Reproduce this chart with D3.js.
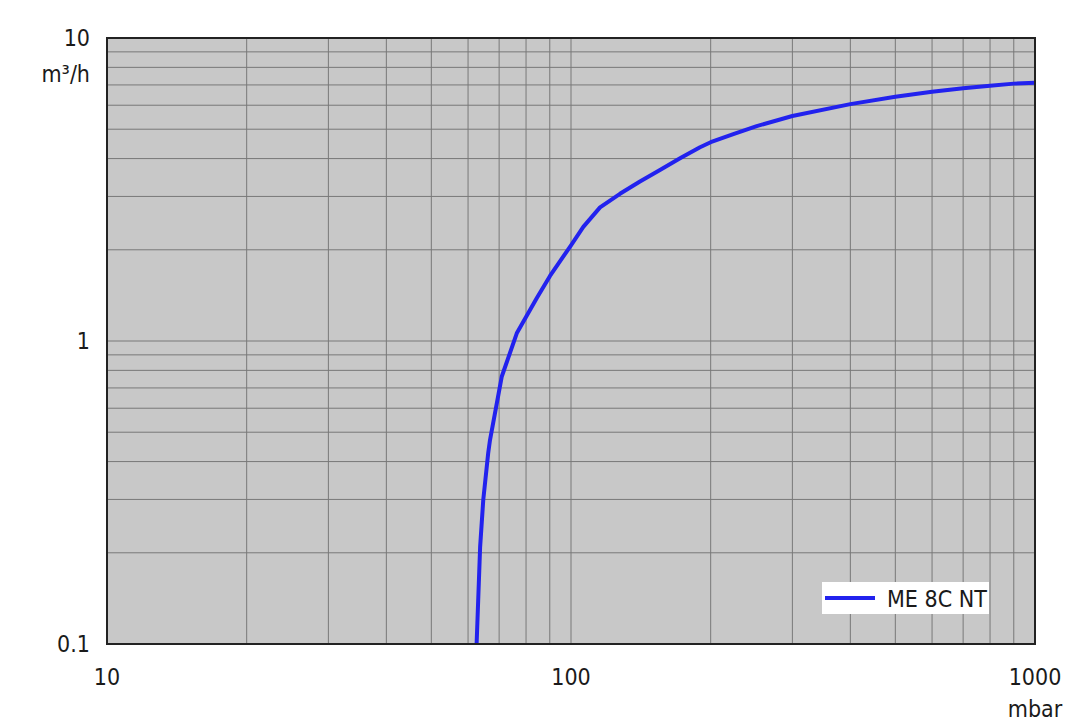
<!DOCTYPE html>
<html>
<head>
<meta charset="utf-8">
<script src="https://cdn.jsdelivr.net/npm/d3@7"></script>
<style>
  html, body { margin: 0; padding: 0; background: #fff; }
  svg { display: block; }
  text { font-family: "DejaVu Sans Condensed", "DejaVu Sans", sans-serif; font-stretch: condensed; fill: #1a1a1a; }
</style>
</head>
<body>
<svg width="1080" height="721"></svg>
<script>
// pressure (mbar) vs pumping speed (m³/h)
var pressure = [62.6, 63.7, 64.7, 66.3, 66.9, 70.9, 76.4, 84.4, 90.1, 100, 106.3, 115.5, 127.5, 140.8, 155.5, 171.8, 189.7, 200, 223.8, 251.3, 300, 400, 500, 600, 700, 800, 900, 1000];
var speed    = [0.1, 0.209, 0.299, 0.426, 0.471, 0.762, 1.06, 1.387, 1.64, 2.07, 2.38, 2.76, 3.06, 3.36, 3.67, 4.01, 4.36, 4.53, 4.82, 5.12, 5.53, 6.05, 6.40, 6.65, 6.83, 6.96, 7.07, 7.12];
var seriesName = "ME 8C NT";
var xTicks = [10, 100, 1000];
var yTicks = [0.1, 1, 10];

(function () {
  var svg = d3.select("svg"),
      pLeft = 107, pRight = 1035, pTop = 38, pBottom = 644;

  var x = d3.scaleLog().domain([10, 1000]).range([pLeft, pRight]);
  var y = d3.scaleLog().domain([0.1, 10]).range([pBottom, pTop]);

  svg.append("rect")
      .attr("x", pLeft).attr("y", pTop)
      .attr("width", pRight - pLeft).attr("height", pBottom - pTop)
      .attr("fill", "#c8c8c8");

  // minor + major grid
  var xGrid = [], yGrid = [];
  [10, 100].forEach(function(d) { for (var i = 1; i < 10; i++) xGrid.push(d * i); });
  [0.1, 1].forEach(function(d) { for (var i = 1; i < 10; i++) yGrid.push(d * i); });

  svg.append("g").selectAll("line").data(xGrid).enter().append("line")
      .attr("x1", function(d) { return x(d); }).attr("x2", function(d) { return x(d); })
      .attr("y1", pTop).attr("y2", pBottom)
      .attr("stroke", "#787878").attr("stroke-width", 1);

  svg.append("g").selectAll("line").data(yGrid).enter().append("line")
      .attr("y1", function(d) { return y(d); }).attr("y2", function(d) { return y(d); })
      .attr("x1", pLeft).attr("x2", pRight)
      .attr("stroke", "#787878").attr("stroke-width", 1);

  // curve
  var line = d3.line()
      .x(function(d) { return x(d[0]); })
      .y(function(d) { return y(d[1]); });

  svg.append("path")
      .datum(d3.zip(pressure, speed))
      .attr("d", line)
      .attr("fill", "none")
      .attr("stroke", "#2222ee")
      .attr("stroke-width", 4)
      .attr("stroke-linejoin", "round");

  // frame
  svg.append("rect")
      .attr("x", pLeft).attr("y", pTop)
      .attr("width", pRight - pLeft).attr("height", pBottom - pTop)
      .attr("fill", "none").attr("stroke", "#222").attr("stroke-width", 2);

  // tick labels
  svg.append("g").selectAll("text").data(yTicks).enter().append("text")
      .attr("x", 90).attr("y", function(d) { return y(d) + 8; })
      .attr("text-anchor", "end").attr("font-size", 23)
      .text(function(d) { return d; });

  svg.append("g").selectAll("text").data(xTicks).enter().append("text")
      .attr("x", function(d) { return x(d); }).attr("y", 685)
      .attr("text-anchor", "middle").attr("font-size", 23)
      .text(function(d) { return d; });

  svg.append("text").attr("x", 90).attr("y", 82)
      .attr("text-anchor", "end").attr("font-size", 23).text("m³/h");

  svg.append("text").attr("x", x(1000)).attr("y", 717)
      .attr("text-anchor", "middle").attr("font-size", 23).text("mbar");

  // legend
  var lg = svg.append("g");
  lg.append("rect").attr("x", 822).attr("y", 582).attr("width", 167).attr("height", 32).attr("fill", "#fff");
  lg.append("line").attr("x1", 825).attr("x2", 875).attr("y1", 598).attr("y2", 598)
      .attr("stroke", "#2222ee").attr("stroke-width", 4);
  lg.append("text").attr("x", 887).attr("y", 607).attr("font-size", 23).text(seriesName);
}());
</script>
</body>
</html>
